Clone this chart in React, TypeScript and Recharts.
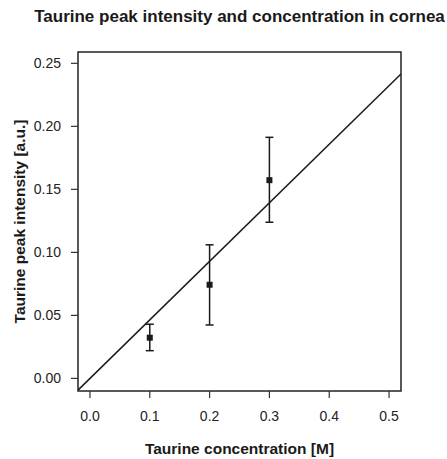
import React from "react";
import {
  ScatterChart,
  Scatter,
  XAxis,
  YAxis,
  ErrorBar,
  ReferenceArea,
} from "recharts";

// measured points
const concentration = [0.1, 0.2, 0.3];
const peakIntensity = [0.0323, 0.0743, 0.1573];
const errLow = [0.0103, 0.0319, 0.0334];
const errHigh = [0.0107, 0.0317, 0.034];

// fitted line, end points read at the plot edges
const fitX = [-0.02, 0.52];
const fitY = [-0.0093, 0.2415];

const xTicks = [0, 0.1, 0.2, 0.3, 0.4, 0.5];
const yTicks = [0, 0.05, 0.1, 0.15, 0.2, 0.25];

const FONT = '"Liberation Sans", Arial, Helvetica, sans-serif';
const INK = "#1a1a1a";

const points = concentration.map((x, i) => ({
  x,
  y: peakIntensity[i],
  err: [errLow[i], errHigh[i]],
}));
const fit = fitX.map((x, i) => ({ x, y: fitY[i] }));

const Square = (props: any) => {
  const { cx, cy } = props;
  return <rect x={cx - 3} y={cy - 3} width={6} height={6} fill={INK} />;
};

const YLabel = (props: any) => {
  const vb = props.viewBox || { y: 52, height: 339 };
  const cy = vb.y + vb.height / 2;
  return (
    <text
      transform={`translate(25, ${cy}) rotate(-90)`}
      textAnchor="middle"
      fontFamily={FONT}
      fontWeight="bold"
      fontSize={15.5}
      fill={INK}
    >
      Taurine peak intensity [a.u.]
    </text>
  );
};

export default function App() {
  return (
    <div
      style={{
        position: "absolute",
        left: 0,
        top: 0,
        width: 447,
        height: 459,
        background: "#fff",
        fontFamily: FONT,
      }}
    >
      <div
        style={{
          position: "absolute",
          left: 0,
          top: 8,
          width: 479,
          textAlign: "center",
          fontSize: 17,
          lineHeight: "17px",
          fontWeight: "bold",
          color: INK,
          whiteSpace: "nowrap",
        }}
      >
        Taurine peak intensity and concentration in cornea
      </div>
      <ScatterChart
        width={447}
        height={459}
        margin={{ top: 52, right: 46, bottom: 0, left: 0 }}
      >
        <XAxis
          dataKey="x"
          type="number"
          domain={[-0.02, 0.52]}
          allowDataOverflow
          ticks={xTicks}
          tickFormatter={(v: number) => v.toFixed(1)}
          axisLine={false}
          tickSize={7}
          tickMargin={13}
          tickLine={{ stroke: "#333", strokeWidth: 1.2 }}
          tick={{ fill: "#222", fontSize: 14, fontFamily: FONT }}
          height={68}
          label={{
            value: "Taurine concentration [M]",
            position: "insideBottom",
            offset: 5,
            style: {
              fontFamily: FONT,
              fontWeight: "bold",
              fontSize: 15.5,
              fill: INK,
            },
          }}
        />
        <YAxis
          dataKey="y"
          type="number"
          domain={[-0.01, 0.259]}
          allowDataOverflow
          ticks={yTicks}
          tickFormatter={(v: number) => v.toFixed(2)}
          axisLine={false}
          tickSize={7}
          tickMargin={10}
          tickLine={{ stroke: "#333", strokeWidth: 1.2 }}
          tick={{ fill: "#222", fontSize: 14, fontFamily: FONT }}
          width={78}
          label={{ content: <YLabel /> }}
        />
        <ReferenceArea
          x1={-0.02}
          x2={0.52}
          y1={-0.01}
          y2={0.259}
          fill="none"
          fillOpacity={0}
          stroke="#222"
          strokeWidth={1.5}
          ifOverflow="visible"
        />
        <Scatter
          data={fit}
          line={{ stroke: INK, strokeWidth: 1.5 }}
          shape={() => <g />}
          isAnimationActive={false}
          legendType="none"
        />
        <Scatter
          data={points}
          shape={<Square />}
          isAnimationActive={false}
          legendType="none"
        >
          <ErrorBar
            dataKey="err"
            direction="y"
            width={4}
            stroke={INK}
            strokeWidth={1.5}
            isAnimationActive={false}
          />
        </Scatter>
      </ScatterChart>
    </div>
  );
}
